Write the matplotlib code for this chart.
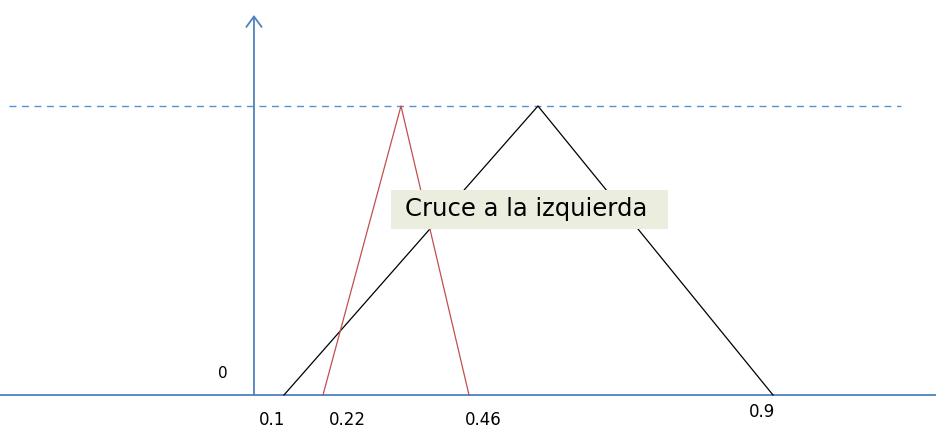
import matplotlib
matplotlib.use("Agg")
import matplotlib.pyplot as plt
from matplotlib.patches import Rectangle

# schematic membership functions (x in drawing units, y = membership)
black_x = [0.1, 0.5155, 0.9]
black_y = [0, 1, 0]
red_x = [0.1638, 0.2914, 0.4027]
red_y = [0, 1, 0]

# value labels written under the axis (the sketch is not to scale)
tick_labels = ["0.1", "0.22", "0.46", "0.9"]
tick_pos = [0.0804, 0.2031, 0.4256, 0.882]
tick_ypos = [-0.0865, -0.0865, -0.0865, -0.0588]

yaxis_x = 0.0509
note = "Cruce a la izquierda"

blue = "#4f81bd"

fig = plt.figure(figsize=(9.36, 4.28), dpi=100)
ax = fig.add_axes([0, 0, 1, 1])
ax.set_xlim(-0.3646, 1.1667)
ax.set_ylim(-0.1142, 1.3668)
ax.axis("off")

# axes
ax.plot([-0.3646, 1.1667], [0, 0], color=blue, lw=1.3)
ax.annotate("", xy=(yaxis_x, 1.315), xytext=(yaxis_x, 0),
            arrowprops=dict(arrowstyle="->,head_length=0.75,head_width=0.55",
                            color=blue, lw=1.3, shrinkA=0, shrinkB=0))
ax.plot([-0.35, 1.109], [1, 1], color="#5b8fd4", lw=1.0, linestyle=(0, (5, 4)))

ax.plot(black_x, black_y, color="black", lw=0.9)
ax.plot(red_x, red_y, color="#c0504d", lw=0.9)

ax.add_patch(Rectangle((0.275, 0.5744), 0.4532, 0.135, facecolor="#ebeedf",
                       edgecolor="none", zorder=3))
ax.text(0.298, 0.642, note, fontsize=17.5, va="center", ha="left",
        family="DejaVu Sans", zorder=4)

for lab, xp, yp in zip(tick_labels, tick_pos, tick_ypos):
    ax.text(xp, yp, lab, fontsize=12, ha="center", va="center")
ax.text(0.0002, 0.0727, "0", fontsize=11, ha="center", va="center")

fig.savefig("out.png", dpi=100)
